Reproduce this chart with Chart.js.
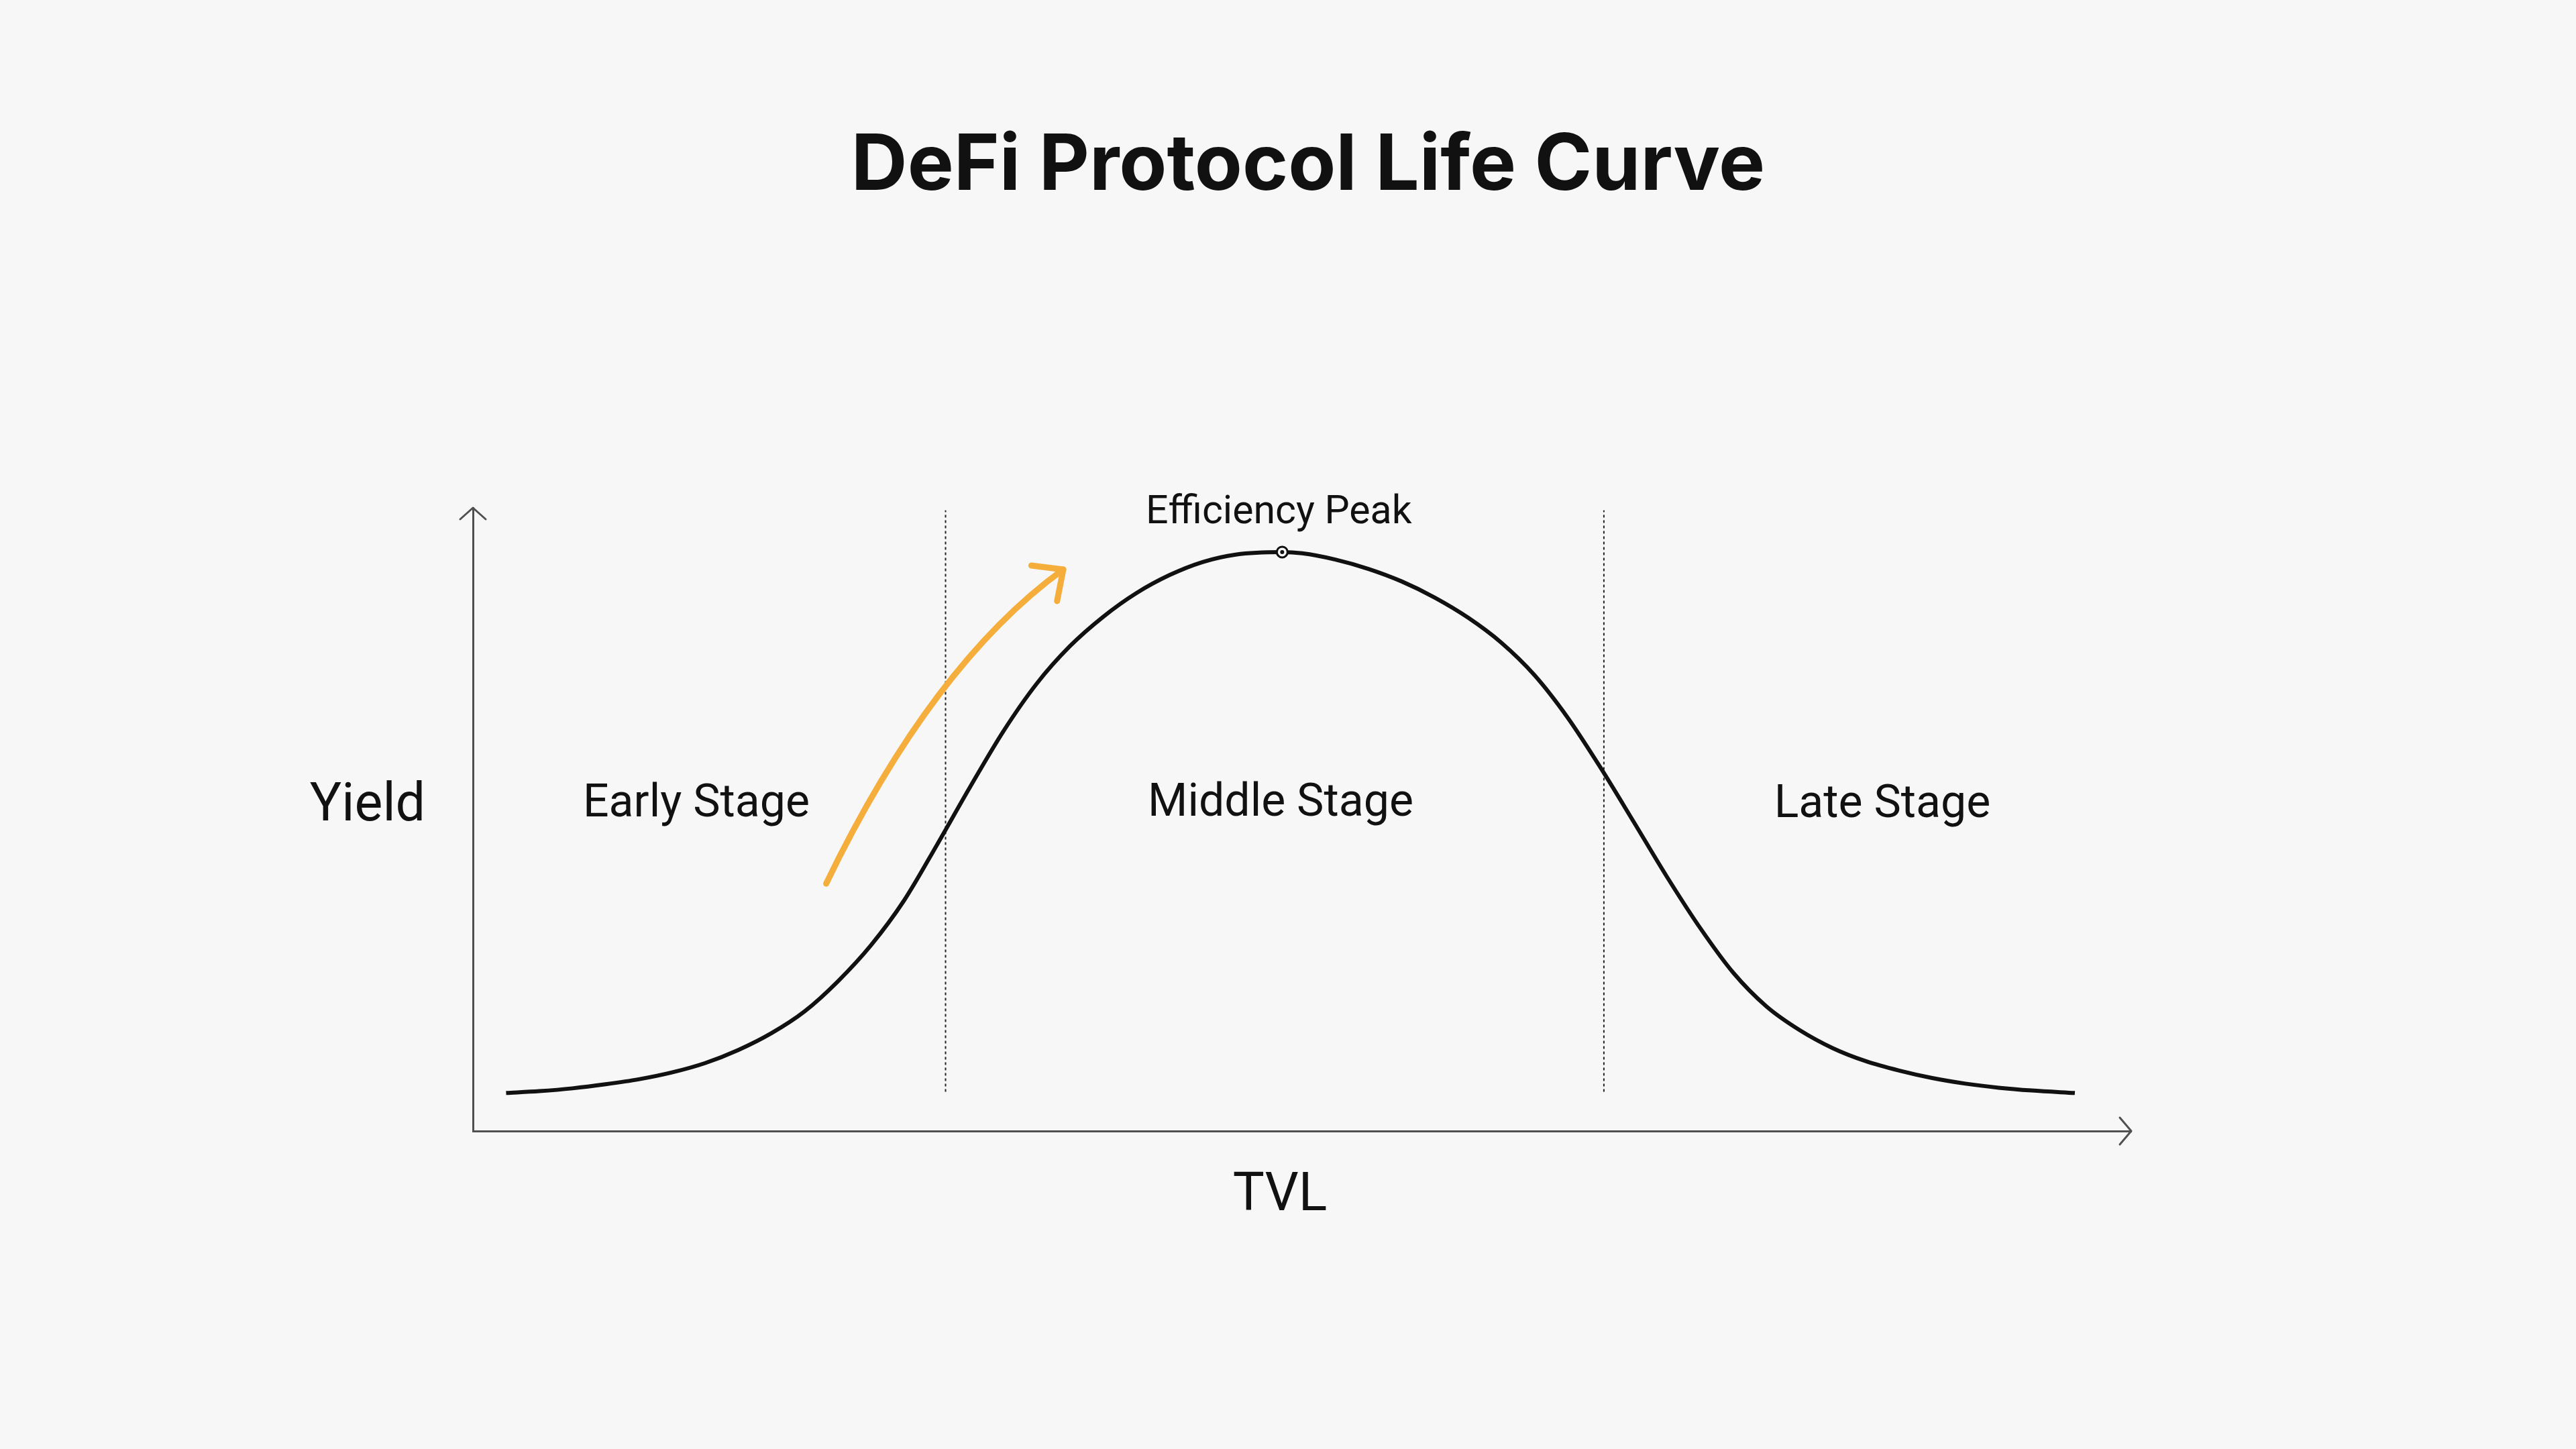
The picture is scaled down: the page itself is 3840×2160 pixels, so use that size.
<!DOCTYPE html>
<html lang="en">
<head>
    <meta charset="UTF-8">
    <title>DeFi Protocol Life Curve</title>
    <script src="https://cdn.jsdelivr.net/npm/chart.js@4.4.1/dist/chart.umd.min.js"></script>
    <style>
        html, body {
            margin: 0;
            padding: 0;
            background: #f7f7f7;
        }
        #lifeCurve {
            display: block;
        }
    </style>
</head>
<body>
    <canvas id="lifeCurve" width="3840" height="2160"></canvas>

    <script>
        // curve (TVL on x, yield on y, both 0-100)
        const curveX = [2, 4, 6, 8, 10, 12, 14, 16, 18, 20, 22, 24, 26, 28, 30, 32, 34, 36, 38, 40, 42, 44, 46, 48.8,
                        50, 52, 54, 56, 58, 60, 62, 64, 66, 68, 70, 72, 74, 76, 78, 80, 82, 84, 86, 88, 90, 92, 94, 96.6];
        const curveY = [6.1, 6.4, 6.85, 7.5, 8.3, 9.4, 10.9, 13.0, 15.7, 19.2, 24.0, 29.8, 37.0, 46.0, 55.3, 64.2, 71.8, 77.8,
                        82.5, 86.3, 89.2, 91.3, 92.5, 92.9,
                        92.7, 91.7, 90.2, 88.2, 85.6, 82.4, 78.4, 73.2, 66.4, 58.3, 49.6, 40.8, 32.6, 25.4, 20.0, 16.2,
                        13.3, 11.2, 9.7, 8.5, 7.6, 6.95, 6.5, 6.1];

        const stageNames = ['Early Stage', 'Middle Stage', 'Late Stage'];
        const stageBounds = [28.5, 68.2];
        const boundTop = 99.6;
        const boundBottom = 6.3;

        const peakX = 48.8;
        const peakY = 92.9;

        const chartTitle = 'DeFi Protocol Life Curve';
        const peakLabel = 'Efficiency Peak';
        const xTitle = 'TVL';
        const yTitle = 'Yield';

        const bg = '#f7f7f7';
        const ink = '#111111';
        const axisGrey = '#505050';
        const orange = '#f5ad3b';

        const curvePoints = curveX.map((x, i) => ({ x: x, y: curveY[i] }));

        const boundSets = stageBounds.map(b => ({
            data: [{ x: b, y: boundBottom }, { x: b, y: boundTop }],
            borderColor: '#222',
            borderWidth: 2,
            borderDash: [4, 4],
            pointRadius: 0,
            order: 3
        }));

        const overlay = {
            id: 'overlay',
            afterDraw(chart) {
                const { ctx, scales: { x, y }, chartArea: area } = chart;
                ctx.save();

                // axis arrow heads
                ctx.strokeStyle = axisGrey;
                ctx.lineWidth = 3;
                ctx.lineCap = 'round';
                ctx.lineJoin = 'round';
                ctx.beginPath();
                ctx.moveTo(area.left - 19, area.top + 17);
                ctx.lineTo(area.left, area.top);
                ctx.lineTo(area.left + 19, area.top + 17);
                ctx.moveTo(area.right - 17, area.bottom - 20);
                ctx.lineTo(area.right, area.bottom);
                ctx.lineTo(area.right - 17, area.bottom + 20);
                ctx.stroke();

                // orange trend arrow
                const p0 = [x.getPixelForValue(21.3), y.getPixelForValue(39.7)];
                const c = [x.getPixelForValue(27.7), y.getPixelForValue(74.9)];
                const p2 = [x.getPixelForValue(35.6), y.getPixelForValue(90.1)];
                ctx.strokeStyle = orange;
                ctx.lineWidth = 9;
                ctx.beginPath();
                ctx.moveTo(p0[0], p0[1]);
                ctx.quadraticCurveTo(c[0], c[1], p2[0], p2[1]);
                ctx.stroke();
                const ang = Math.atan2(p2[1] - c[1], p2[0] - c[0]);
                const len = 48, spread = 0.75;
                ctx.beginPath();
                ctx.moveTo(p2[0] - len * Math.cos(ang - spread), p2[1] - len * Math.sin(ang - spread));
                ctx.lineTo(p2[0], p2[1]);
                ctx.lineTo(p2[0] - len * Math.cos(ang + spread), p2[1] - len * Math.sin(ang + spread));
                ctx.stroke();

                // text
                ctx.fillStyle = ink;
                ctx.textAlign = 'center';
                ctx.textBaseline = 'alphabetic';

                ctx.font = '700 116px Inter';
                ctx.fillText(chartTitle, 1950, 283);

                ctx.font = '400 59px Roboto';
                ctx.fillText(peakLabel, x.getPixelForValue(peakX) - 5, 780);

                ctx.font = '400 68px Roboto';
                ctx.fillText(stageNames[0], 1038, 1217);
                ctx.fillText(stageNames[1], 1909, 1216);
                ctx.fillText(stageNames[2], 2806, 1218);

                ctx.font = '400 79px Roboto';
                ctx.fillText(yTitle, 548, 1223);
                ctx.fillText(xTitle, 1908, 1804);

                ctx.restore();
            }
        };

        const ctx = document.getElementById('lifeCurve').getContext('2d');
        new Chart(ctx, {
            type: 'line',
            data: {
                datasets: [
                    {
                        // inner dot of the peak marker
                        data: [{ x: peakX, y: peakY }],
                        pointRadius: 3,
                        pointBackgroundColor: ink,
                        pointBorderWidth: 0,
                        showLine: false,
                        order: 0
                    },
                    {
                        data: [{ x: peakX, y: peakY }],
                        pointRadius: 8,
                        pointBackgroundColor: bg,
                        pointBorderColor: ink,
                        pointBorderWidth: 3,
                        showLine: false,
                        order: 1
                    },
                    {
                        data: curvePoints,
                        borderColor: ink,
                        borderWidth: 6,
                        pointRadius: 0,
                        cubicInterpolationMode: 'monotone',
                        order: 2
                    },
                    ...boundSets
                ]
            },
            options: {
                responsive: false,
                animation: false,
                events: [],
                layout: {
                    padding: { left: 705, right: 663, top: 757, bottom: 474 }
                },
                plugins: {
                    legend: { display: false },
                    tooltip: { enabled: false },
                    title: { display: false }
                },
                scales: {
                    x: {
                        type: 'linear',
                        min: 0,
                        max: 100,
                        grid: { display: false, drawTicks: false },
                        ticks: { display: false },
                        border: { color: axisGrey, width: 3 }
                    },
                    y: {
                        type: 'linear',
                        min: 0,
                        max: 100,
                        grid: { display: false, drawTicks: false },
                        ticks: { display: false },
                        border: { color: axisGrey, width: 3 }
                    }
                }
            },
            plugins: [overlay]
        });
    </script>
</body>
</html>
